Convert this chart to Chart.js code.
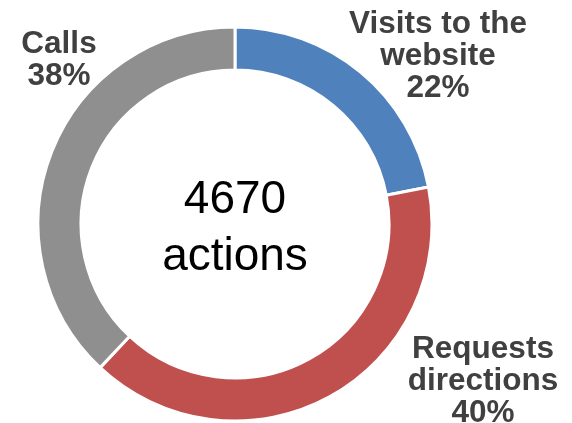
<!DOCTYPE html>
<html>
<head>
<meta charset="utf-8">
<script src="https://cdn.jsdelivr.net/npm/chart.js@4"></script>
<style>
  html, body { margin: 0; padding: 0; background: #fff; }
  #wrap { width: 572px; height: 423px; }
</style>
</head>
<body>
<div id="wrap"><canvas id="donut" width="572" height="423"></canvas></div>
<script>
// data
let categories = ['Visits to the website', 'Requests directions', 'Calls'];
let shares = [22, 40, 38];
let labelLines = [['Visits to the', 'website'], ['Requests', 'directions'], ['Calls']];
let colours = ['#4F81BD', '#C0504D', '#8F8F8F'];
let totalActions = 4670;
let centerWord = 'actions';

// where each label block sits (center x, first baseline)
let labelSpots = [[438, 33], [483, 358], [59, 53]];

let labelPlugin = {
  id: 'labels',
  afterDraw(chart) {
    let ctx = chart.ctx;
    let meta = chart.getDatasetMeta(0);
    let arc = meta.data[0];
    ctx.save();
    ctx.textAlign = 'center';
    ctx.textBaseline = 'alphabetic';

    // center text
    ctx.fillStyle = '#000';
    ctx.font = '46px "Liberation Sans", Arial, sans-serif';
    ctx.fillText(String(totalActions), arc.x, arc.y - 11);
    ctx.fillText(centerWord, arc.x, arc.y + 46);

    // slice labels
    ctx.fillStyle = '#404040';
    ctx.font = 'bold 31.5px "Liberation Sans", Arial, sans-serif';
    for (let i = 0; i < categories.length; i++) {
      let lines = labelLines[i].concat([shares[i] + '%']);
      let x = labelSpots[i][0];
      let y = labelSpots[i][1];
      for (let j = 0; j < lines.length; j++) {
        ctx.fillText(lines[j], x, y + j * 32);
      }
    }
    ctx.restore();
  }
};

let donut = document.getElementById('donut').getContext('2d');

let chart = new Chart(donut, {
  type: 'doughnut',
  data: {
    labels: categories,
    datasets: [{
      data: shares,
      backgroundColor: colours,
      borderColor: '#ffffff',
      borderWidth: 3,
      hoverOffset: 0
    }]
  },
  options: {
    responsive: false,
    animation: false,
    radius: 197,
    cutout: 152,
    layout: { padding: { left: 0, right: 102, top: 28, bottom: 3 } },
    plugins: {
      legend: { display: false },
      tooltip: { enabled: false }
    }
  },
  plugins: [labelPlugin]
});
</script>
</body>
</html>
